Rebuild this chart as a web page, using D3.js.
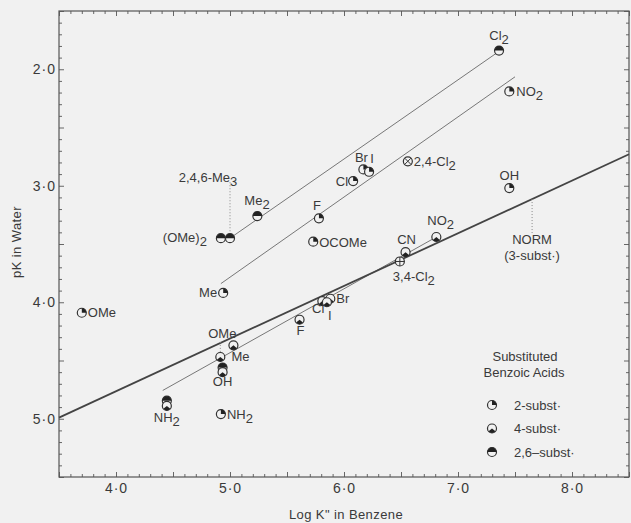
<html>
<head>
<style>
  body{margin:0;background:#f1f1f1}
  .chart text{font-family:"Liberation Sans",Arial,sans-serif;font-size:13px;fill:#3a3a3a}
  .chart .frame{fill:none;stroke:#555;stroke-width:1.2px}
  .chart .tick line{stroke:#666}
  .chart .fit{stroke:#777;stroke-width:1px;fill:none}
  .chart .norm{stroke:#444;stroke-width:1.8px;fill:none}
  .chart .dots{stroke:#888;stroke-width:1px;stroke-dasharray:1,2}
  .chart .mk circle{fill:#f1f1f1;stroke:#333;stroke-width:1.2px}
  .chart .mk path{fill:#222}
  .chart .mk line{stroke:#333;stroke-width:1px}
</style>
</head>
<body>
<div id="benzoic"></div>
<script src="https://cdnjs.cloudflare.com/ajax/libs/d3/7.8.5/d3.min.js"></script>
<script>
(function () {

  // ---- data (log K'' in benzene, pK in water) ----
  var ortho = [            // 2-subst
    {name: 'NO_2',  x: 7.45, pk: 2.19},
    {name: 'Br',    x: 6.17, pk: 2.86},
    {name: 'I',     x: 6.22, pk: 2.88},
    {name: 'Cl',    x: 6.08, pk: 2.96},
    {name: 'OH',    x: 7.45, pk: 3.02},
    {name: 'F',     x: 5.78, pk: 3.28},
    {name: 'OCOMe', x: 5.73, pk: 3.48},
    {name: 'Me',    x: 4.94, pk: 3.92},
    {name: 'OMe',   x: 3.70, pk: 4.09},
    {name: 'NH_2',  x: 4.92, pk: 4.96}
  ];

  var para = [             // 4-subst
    {name: 'NO_2', x: 6.81, pk: 3.44},
    {name: 'CN',   x: 6.54, pk: 3.57},
    {name: 'Br',   x: 5.88, pk: 3.97},
    {name: 'Cl',   x: 5.81, pk: 3.99},
    {name: 'I',    x: 5.85, pk: 4.00},
    {name: 'F',    x: 5.61, pk: 4.15},
    {name: 'Me',   x: 5.03, pk: 4.37},
    {name: 'OMe',  x: 4.915, pk: 4.47},
    {name: 'OH',   x: 4.935, pk: 4.60},
    {name: 'NH_2', x: 4.446, pk: 4.89}
  ];

  var di = [               // 2,6-subst
    {name: 'Cl_2',       x: 7.36, pk: 1.84},
    {name: 'Me_2',       x: 5.24, pk: 3.26},
    {name: '(OMe)_2',    x: 4.92, pk: 3.45},
    {name: '2,4,6-Me_3', x: 5.00, pk: 3.45},
    {name: 'OH',         x: 4.935, pk: 4.56},
    {name: 'NH_2',       x: 4.446, pk: 4.845}
  ];

  var other = [
    {name: '2,4-Cl_2', x: 6.56, pk: 2.79, kind: 'cross'},
    {name: '3,4-Cl_2', x: 6.49, pk: 3.65, kind: 'plus'}
  ];

  // fitted lines [x1, pk1, x2, pk2]
  var fits = [
    [5.00, 3.45, 7.34, 1.86],   // 2,6-subst
    [4.92, 3.84, 7.50, 2.065],  // 2-subst
    [4.41, 4.757, 6.81, 3.44]   // 4-subst
  ];
  var normLine = [3.5, 4.99, 8.5, 2.73];   // NORM (3-subst)

  var xTicks = [4, 5, 6, 7, 8];
  var yTicks = [2, 3, 4, 5];
  var legendItems = [['2-subst\u00b7', 'q'], ['4-subst\u00b7', 'b'], ['2,6\u2013subst\u00b7', 'h']];

  // ---- label placement [dx, dy, anchor] ----
  var oLab = {
    'NO_2': [7, 4.5, 'start'], 'Br': [-2, -7, 'middle'], 'I': [3, -8.5, 'middle'],
    'Cl': [-5, 4.5, 'end'], 'OH': [0, -8, 'middle'], 'F': [-2, -8.5, 'middle'],
    'OCOMe': [6, 5, 'start'], 'Me': [-6, 4, 'end'], 'OMe': [6, 4.5, 'start'],
    'NH_2': [6, 4.5, 'start']
  };
  var pLab = {
    'NO_2': [-9, -12, 'start'], 'CN': [1, -8, 'middle'], 'Br': [6, 4, 'start'],
    'Cl': [2, 12, 'end'], 'I': [3, 18, 'middle'], 'F': [1, 15.5, 'middle'],
    'Me': [-2, 15.5, 'start'], 'OMe': [2, -19, 'middle'], 'OH': [0, 13.5, 'middle'],
    'NH_2': [0, 16, 'middle']
  };
  var dLab = {
    'Cl_2': [0, -11, 'middle'], 'Me_2': [-13, -11, 'start'], '(OMe)_2': [-14, 4, 'end'],
    '2,4,6-Me_3': [-22, -56, 'middle']
  };
  var xLab = {'2,4-Cl_2': [6, 5, 'start'], '3,4-Cl_2': [-7, 20, 'start']};

  var
    width  = 631,
    height = 523,
    left   = 59,
    right  = 629,
    top    = 11,
    bottom = 477,
    r      = 4.5,
    xScale = d3.scaleLinear().domain([3.5, 8.5]).range([left, right]),
    yScale = d3.scaleLinear().domain([1.5, 5.5]).range([top, bottom]),
    fmt    = function (d) { return d3.format('.1f')(d).replace('.', '\u00b7'); },
    svg    = d3.select('#benzoic').append('svg')
               .attr('class', 'chart')
               .attr('width', width)
               .attr('height', height);

  svg.append('rect').attr('width', width).attr('height', height).attr('fill', '#f1f1f1');

  // ---- axes: ticks every 0.1 on all four sides, pointing in ----
  var minorX = d3.range(35, 86).map(function (d) { return d / 10; });
  var minorY = d3.range(15, 56).map(function (d) { return d / 10; });
  function tlen(d) { return Math.abs(d * 2 - Math.round(d * 2)) < 1e-6 ? 5 : 3; }

  var axB = svg.append('g').attr('transform', 'translate(0,' + bottom + ')')
    .call(d3.axisBottom(xScale).tickValues(minorX).tickSize(0).tickPadding(6)
      .tickFormat(function (d) { return xTicks.indexOf(d) >= 0 ? fmt(d) : ''; }));
  axB.selectAll('.tick line').attr('y2', function (d) { return -tlen(d); });
  axB.select('.domain').remove();

  var axT = svg.append('g').attr('transform', 'translate(0,' + top + ')')
    .call(d3.axisTop(xScale).tickValues(minorX).tickSize(0).tickFormat(''));
  axT.selectAll('.tick line').attr('y2', function (d) { return tlen(d); });
  axT.select('.domain').remove();

  var axL = svg.append('g').attr('transform', 'translate(' + left + ',0)')
    .call(d3.axisLeft(yScale).tickValues(minorY).tickSize(0).tickPadding(3)
      .tickFormat(function (d) { return yTicks.indexOf(d) >= 0 ? fmt(d) : ''; }));
  axL.selectAll('.tick line').attr('x2', function (d) { return tlen(d); });
  axL.select('.domain').remove();

  var axR = svg.append('g').attr('transform', 'translate(' + right + ',0)')
    .call(d3.axisRight(yScale).tickValues(minorY).tickSize(0).tickFormat(''));
  axR.selectAll('.tick line').attr('x2', function (d) { return -tlen(d); });
  axR.select('.domain').remove();

  svg.selectAll('.tick text').style('font-size', '14px').style('letter-spacing', '1px');

  svg.append('rect').attr('class', 'frame')
    .attr('x', left).attr('y', top)
    .attr('width', right - left).attr('height', bottom - top);

  svg.append('text')
    .attr('x', (left + right) / 2 + 2).attr('y', 519)
    .attr('text-anchor', 'middle')
    .style('letter-spacing', '0.4px')
    .text('Log K" in Benzene');

  svg.append('text')
    .attr('transform', 'translate(21,242) rotate(-90)')
    .attr('text-anchor', 'middle')
    .style('letter-spacing', '0.4px')
    .text('pK in Water');

  // ---- lines ----
  svg.selectAll('.fit').data(fits).enter().append('line')
    .attr('class', 'fit')
    .attr('x1', function (d) { return xScale(d[0]); })
    .attr('y1', function (d) { return yScale(d[1]); })
    .attr('x2', function (d) { return xScale(d[2]); })
    .attr('y2', function (d) { return yScale(d[3]); });

  svg.append('line').attr('class', 'norm')
    .attr('x1', xScale(normLine[0])).attr('y1', yScale(normLine[1]))
    .attr('x2', xScale(normLine[2])).attr('y2', yScale(normLine[3]));

  // dotted leaders
  var normX = 7.65;
  var normPk = normLine[1] + (normX - normLine[0]) * (normLine[3] - normLine[1]) / (normLine[2] - normLine[0]);
  var leaders = [
    [5.00, 2.97, 3.42],
    [4.915, 4.34, 4.43],
    [normX, normPk, 3.41]
  ];
  svg.selectAll('.dots').data(leaders).enter().append('line')
    .attr('class', 'dots')
    .attr('x1', function (d) { return xScale(d[0]); })
    .attr('x2', function (d) { return xScale(d[0]); })
    .attr('y1', function (d) { return yScale(d[1]); })
    .attr('y2', function (d) { return yScale(d[2]); });

  var normG = svg.append('g');
  normG.append('text').attr('x', xScale(normX)).attr('y', yScale(normPk) + 45)
    .attr('text-anchor', 'middle').text('NORM');
  normG.append('text').attr('x', xScale(normX)).attr('y', yScale(normPk) + 61)
    .attr('text-anchor', 'middle').text('(3-subst\u00b7)');

  // ---- markers ----
  var arc = d3.arc().innerRadius(0).outerRadius(r);
  var fills = {
    q: {startAngle: 0, endAngle: Math.PI / 2},
    b: {startAngle: Math.PI * 0.72, endAngle: Math.PI * 1.28},
    h: {startAngle: -Math.PI / 2, endAngle: Math.PI / 2}
  };

  function marker(g, kind) {
    g.attr('class', 'mk');
    g.append('circle').attr('r', r);
    if (fills[kind]) {
      g.append('path').attr('d', arc(fills[kind]));
    } else if (kind === 'cross') {
      var k = r * 0.7;
      g.append('line').attr('x1', -k).attr('y1', -k).attr('x2', k).attr('y2', k);
      g.append('line').attr('x1', -k).attr('y1', k).attr('x2', k).attr('y2', -k);
    } else if (kind === 'plus') {
      g.append('line').attr('x1', -r).attr('x2', r);
      g.append('line').attr('y1', -r).attr('y2', r);
    }
  }

  function richText(sel, name) {
    var parts = name.split('_');
    sel.append('tspan').text(parts[0]);
    if (parts[1]) sel.append('tspan').attr('dy', 4).text(parts[1]);
  }

  function plot(data, kind, labels) {
    var g = svg.append('g');
    var pts = g.selectAll('g').data(data).enter().append('g')
      .attr('transform', function (d) { return 'translate(' + xScale(d.x) + ',' + yScale(d.pk) + ')'; });
    pts.each(function (d) { marker(d3.select(this), d.kind || kind); });
    pts.filter(function (d) { return labels[d.name]; }).each(function (d) {
      var L = labels[d.name];
      var t = d3.select(this).append('text')
        .attr('x', L[0]).attr('y', L[1]).attr('text-anchor', L[2]);
      richText(t, d.name);
    });
  }

  plot(di, 'h', dLab);
  plot(ortho, 'q', oLab);
  plot(para, 'b', pLab);
  plot(other, null, xLab);

  // ---- legend ----
  var leg = svg.append('g').attr('transform', 'translate(492,0)');
  leg.append('text').attr('x', 33).attr('y', 361).attr('text-anchor', 'middle').text('Substituted');
  leg.append('text').attr('x', 32).attr('y', 377).attr('text-anchor', 'middle').text('Benzoic  Acids');
  var li = leg.selectAll('.li').data(legendItems).enter().append('g')
    .attr('transform', function (d, i) { return 'translate(0,' + (405 + i * 23.5) + ')'; });
  li.each(function (d) { marker(d3.select(this), d[1]); });
  li.append('text').attr('x', 22).attr('y', 4.5).text(function (d) { return d[0]; });

})();
</script>
</body>
</html>
